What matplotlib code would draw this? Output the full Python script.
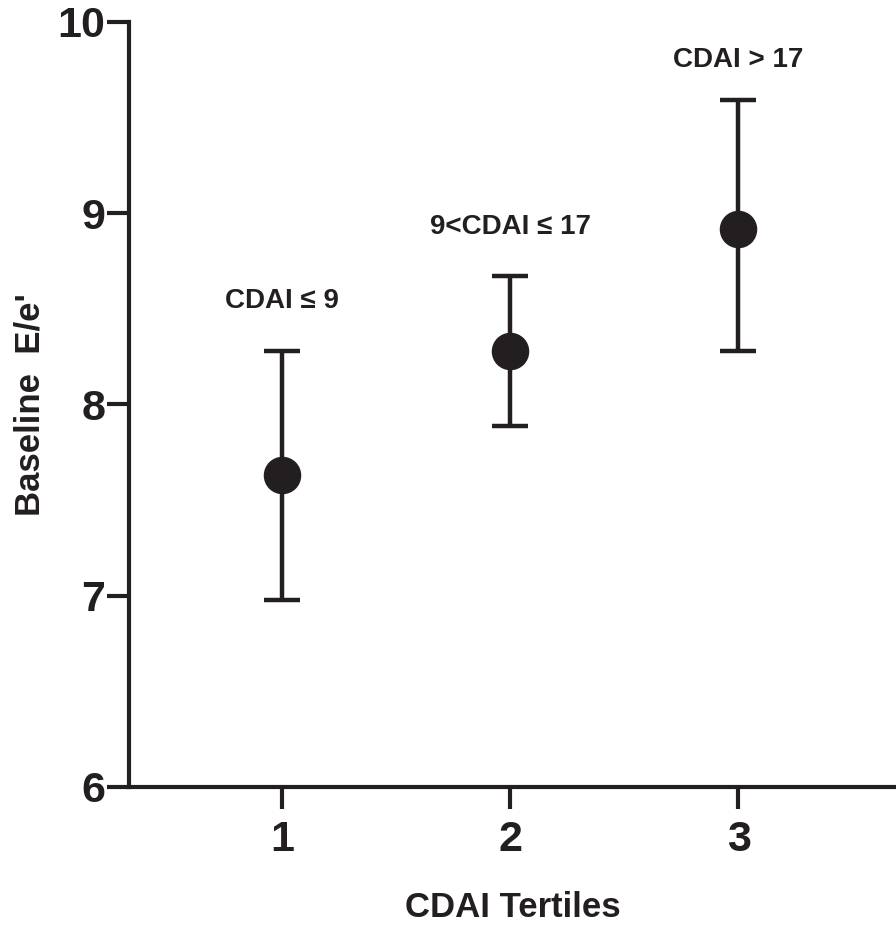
import numpy as np
import matplotlib
matplotlib.use("Agg")
import matplotlib.pyplot as plt

# values
tertiles = [1, 2, 3]
means = [7.63, 8.28, 8.92]
ci_lower = [6.98, 7.89, 8.28]
ci_upper = [8.28, 8.67, 9.59]
group_labels = ["CDAI \u2264 9", "9<CDAI \u2264 17", "CDAI > 17"]
label_heights = [8.54, 8.93, 9.80]
y_ticks = [6, 7, 8, 9, 10]

INK = "#231f20"
plt.rcParams["font.family"] = ["Liberation Sans", "DejaVu Sans"]
plt.rcParams["font.weight"] = "bold"

fig = plt.figure(figsize=(8.96, 9.32), dpi=100)
ax = fig.add_axes([0.144, 0.1556, 0.856, 0.8208])

means_arr = np.array(means)
yerr = np.vstack([means_arr - np.array(ci_lower), np.array(ci_upper) - means_arr])
ax.errorbar(tertiles, means, yerr=yerr, fmt="o", color=INK, ecolor=INK,
            markersize=26, elinewidth=3.2, capsize=13, capthick=3.2, zorder=3)

for x, y, txt in zip(tertiles, label_heights, group_labels):
    ax.text(x, y, txt, ha="center", va="center", fontsize=20,
            fontweight="bold", color=INK)

ax.set_xlim(0.33, 3.69)
ax.set_ylim(6, 10)
ax.set_xticks(tertiles)
ax.set_yticks(y_ticks)
ax.tick_params(axis="both", direction="out", length=16, width=3, color=INK,
               labelcolor=INK, labelsize=31)
ax.tick_params(axis="x", pad=8)
ax.tick_params(axis="y", pad=1)
for lab in ax.get_xticklabels() + ax.get_yticklabels():
    lab.set_fontweight("bold")

for side in ["top", "right"]:
    ax.spines[side].set_visible(False)
for side in ["left", "bottom"]:
    ax.spines[side].set_linewidth(3)
    ax.spines[side].set_color(INK)

ax.set_xlabel("CDAI Tertiles", fontsize=25, fontweight="bold", color=INK, labelpad=22)
ax.set_ylabel("Baseline  E/e'", fontsize=25, fontweight="bold", color=INK, labelpad=8)

fig.savefig("out.png", dpi=100)
